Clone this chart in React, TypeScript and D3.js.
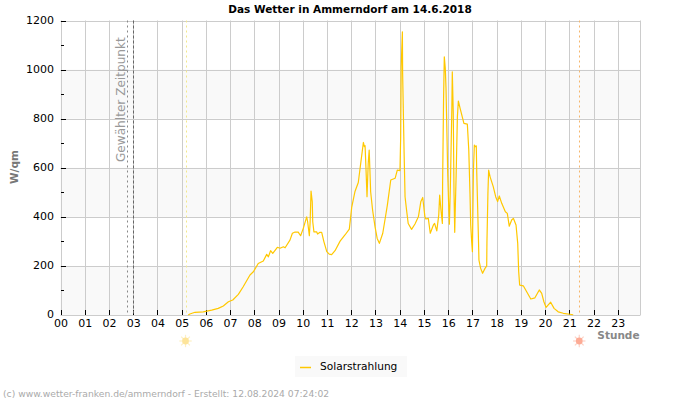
import React from "react";
import * as d3 from "d3";

const title = "Das Wetter in Ammerndorf am 14.6.2018";
const footer = "(c) www.wetter-franken.de/ammerndorf - Erstellt: 12.08.2024 07:24:02";
const seriesName = "Solarstrahlung";
const yTicks = [0, 200, 400, 600, 800, 1000, 1200];
const yMinor = [100, 300, 500, 700, 900, 1100];
const hourTicks = d3.range(0, 24);
const selectedHours = [2.75, 2.99];
const sunrise = 5.16;
const sunset = 21.41;

const hours = [5.27,5.34,5.55,5.89,6.24,6.51,6.72,6.93,7.11,7.34,7.54,7.82,7.96,8.16,8.37,8.51,8.58,8.67,8.76,8.95,9.06,9.2,9.27,9.47,9.57,9.68,9.81,9.91,10.02,10.16,10.2,10.27,10.3,10.34,10.39,10.41,10.46,10.57,10.61,10.71,10.78,10.87,10.99,11.09,11.19,11.33,11.54,11.74,11.92,12.02,12.15,12.29,12.39,12.5,12.54,12.57,12.61,12.65,12.7,12.74,12.77,12.8,12.88,12.98,13.07,13.16,13.3,13.39,13.49,13.63,13.81,13.9,14.01,14.04,14.06,14.11,14.12,14.18,14.22,14.29,14.35,14.49,14.63,14.77,14.87,14.95,15.04,15.08,15.18,15.26,15.39,15.44,15.53,15.61,15.65,15.7,15.76,15.77,15.81,15.84,15.88,15.91,15.94,15.98,16.02,16.05,16.09,16.15,16.17,16.21,16.24,16.27,16.29,16.33,16.38,16.42,16.49,16.65,16.79,16.85,16.9,16.93,16.97,17,17.04,17.08,17.12,17.16,17.18,17.24,17.27,17.34,17.42,17.52,17.59,17.6,17.64,17.67,17.73,17.86,17.96,18.04,18.11,18.21,18.36,18.44,18.52,18.62,18.69,18.8,18.87,18.91,18.95,19.1,19.24,19.41,19.58,19.76,19.86,19.95,20.04,20.13,20.23,20.37,20.54,20.75,21.16];
const watts = [0,4,11,13,20,27,37,54,61,84,115,163,176,210,220,247,237,262,251,276,272,278,274,305,333,338,338,323,353,400,380,323,373,505,461,380,339,339,330,337,337,299,258,248,246,262,301,326,350,440,502,540,618,703,686,690,590,482,618,672,590,502,428,360,312,292,333,387,448,550,557,590,588,726,1011,1154,984,665,482,421,373,349,371,400,461,479,400,391,394,333,367,373,343,407,489,430,373,536,882,1052,1005,925,782,578,448,370,523,835,991,823,502,337,421,577,808,872,843,781,778,672,496,367,299,258,584,692,686,689,578,346,224,190,170,190,200,299,496,590,563,523,482,462,485,455,421,414,362,387,394,367,292,176,122,119,95,65,70,102,88,54,31,41,52,27,13,7,1];

const left = 60.5, right = 640.5, top = 20.5, bottom = 315;
const x = d3.scaleLinear().domain([0, 24]).range([left, left + 24 * 24.23]);
const y = d3.scaleLinear().domain([0, 1200]).range([bottom, top]);
const points = hours.map((h, i) => [x(h), y(watts[i])] as [number, number]);
const path = d3.line().curve(d3.curveLinear)(points) ?? "";
const font = "'DejaVu Sans', sans-serif";

function Sun({ cx, cy, core, ray }: { cx: number; cy: number; core: string; ray: string }) {
  return (
    <g>
      {d3.range(0, 8).map((i) => {
        const a = (i * Math.PI) / 4;
        return <line key={i} x1={cx + 3 * Math.cos(a)} y1={cy + 3 * Math.sin(a)} x2={cx + 6.2 * Math.cos(a)} y2={cy + 6.2 * Math.sin(a)} stroke={ray} strokeWidth={1.2} />;
      })}
      <circle cx={cx} cy={cy} r={3.4} fill={core} />
    </g>
  );
}

export default function App() {
  const bands = [[0, 200], [400, 600], [800, 1000]];
  return (
    <svg width={700} height={400} style={{ position: "absolute", left: 0, top: 0 }} fontFamily={font}>
      <rect width={700} height={400} fill="#fff" />
      {bands.map(([a, b]) => (
        <rect key={a} x={left} y={y(b)} width={right - left} height={y(a) - y(b)} fill="#f9f9f9" />
      ))}
      {yTicks.map((t) => (
        <line key={t} x1={left} x2={right} y1={Math.round(y(t)) + 0.5} y2={Math.round(y(t)) + 0.5} stroke="#ccc" />
      ))}
      {hourTicks.map((h) => (
        <line key={h} x1={Math.round(x(h)) + 0.5} x2={Math.round(x(h)) + 0.5} y1={top} y2={bottom} stroke="#ccc" />
      ))}
      <line x1={right} x2={right} y1={top} y2={bottom} stroke="#ccc" />
      {hourTicks.map((h) => (
        <line key={h} x1={Math.round(x(h)) + 0.5} x2={Math.round(x(h)) + 0.5} y1={bottom - 5} y2={bottom} stroke="#000" />
      ))}
      {yTicks.slice(1).map((t) => (
        <line key={t} x1={61} x2={66} y1={Math.round(y(t)) + 0.5} y2={Math.round(y(t)) + 0.5} stroke="#000" />
      ))}
      {yMinor.map((t) => (
        <line key={t} x1={61} x2={64} y1={Math.round(y(t)) + 0.5} y2={Math.round(y(t)) + 0.5} stroke="#000" />
      ))}
      <line x1={Math.round(x(selectedHours[0])) + 0.5} x2={Math.round(x(selectedHours[0])) + 0.5} y1={top} y2={bottom} stroke="#888" strokeDasharray="2 3" />
      <line x1={Math.round(x(selectedHours[1])) + 0.5} x2={Math.round(x(selectedHours[1])) + 0.5} y1={top} y2={bottom} stroke="#666" strokeDasharray="3 2" />
      <line x1={Math.round(x(sunrise)) + 0.5} x2={Math.round(x(sunrise)) + 0.5} y1={top} y2={bottom} stroke="#f3e88c" strokeDasharray="2 3" />
      <line x1={Math.round(x(sunset)) + 0.5} x2={Math.round(x(sunset)) + 0.5} y1={top} y2={bottom} stroke="#f5b56a" strokeDasharray="2 3" />
      <text transform="translate(125,162) rotate(-90)" fontSize={12.1} fill="#999">Gewählter Zeitpunkt</text>
      <path d={path} fill="none" stroke="#ffc800" strokeWidth={1.2} strokeLinejoin="round" />
      {yTicks.map((t) => (
        <text key={t} x={54} y={y(t) + 3} textAnchor="end" fontSize={11} fill="#000">{t}</text>
      ))}
      {hourTicks.map((h) => (
        <text key={h} x={x(h) + 0.5} y={327} textAnchor="middle" fontSize={11} fill="#000">{String(h).padStart(2, "0")}</text>
      ))}
      <text x={350} y={13} textAnchor="middle" fontSize={10.5} fontWeight="bold" fill="#000">{title}</text>
      <text transform="translate(18,184) rotate(-90)" fontSize={10.5} fontWeight="bold" fill="#777">W/qm</text>
      <text x={639.5} y={338.5} textAnchor="end" fontSize={10.5} fontWeight="bold" fill="#888">Stunde</text>
      <Sun cx={x(sunrise)} cy={341} core="#fde49a" ray="#fdf0c4" />
      <Sun cx={x(sunset)} cy={341} core="#fdab95" ray="#fdd2c6" />
      <rect x={295} y={356} width={112} height={21} fill="#f9f9f9" />
      <line x1={300} x2={311} y1={367.5} y2={367.5} stroke="#ffc800" strokeWidth={1.5} />
      <text x={320} y={370} fontSize={10.6} fill="#000">{seriesName}</text>
      <text x={3} y={397} fontSize={9.2} fill="#aaa">{footer}</text>
    </svg>
  );
}
